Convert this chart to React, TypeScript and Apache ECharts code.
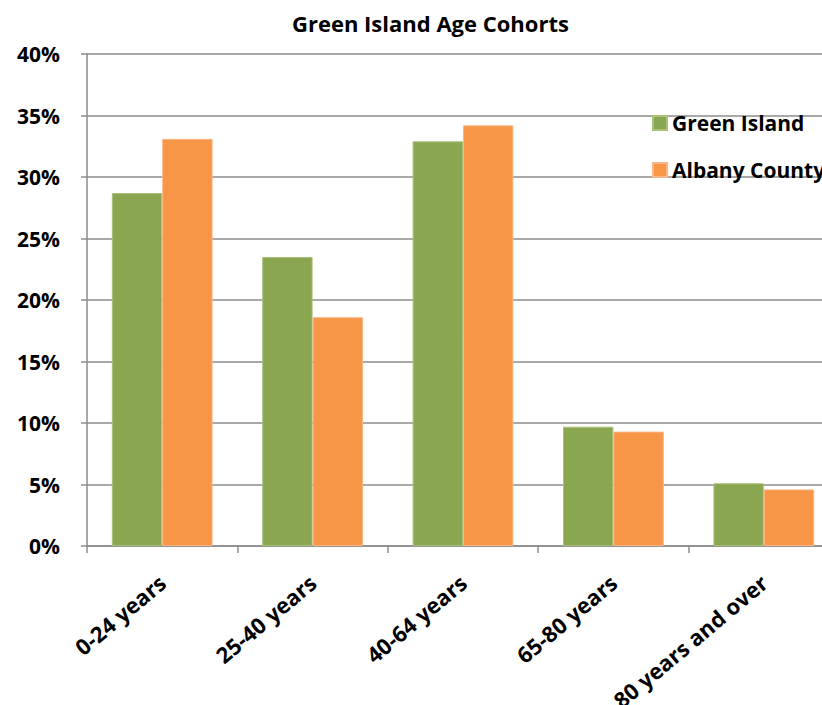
import React, { useEffect, useRef } from "react";
import * as echarts from "echarts";

const categories = ["0-24 years", "25-40 years", "40-64 years", "65-80 years", "80 years and over"];
const greenIsland = [28.7, 23.5, 32.9, 9.7, 5.1];
const albanyCounty = [33.1, 18.6, 34.2, 9.3, 4.6];
const seriesNames = ["Green Island", "Albany County"];
const titleText = "Green Island Age Cohorts";

const FONT = "'Open Sans', 'Noto Sans', sans-serif";

export default function App() {
  const ref = useRef<HTMLDivElement>(null);
  useEffect(() => {
    if (!ref.current) return;
    const chart = echarts.init(ref.current, null, { renderer: "svg" });
    chart.setOption({
      animation: false,
      backgroundColor: "#ffffff",
      title: {
        text: titleText,
        left: 287,
        top: 7,
        textStyle: { fontFamily: FONT, fontWeight: "bold", fontSize: 22, color: "#000" },
      },
      legend: {
        orient: "vertical",
        left: 647,
        top: 106,
        itemWidth: 14,
        itemHeight: 14,
        itemGap: 23,
        icon: "rect",
        textStyle: { fontFamily: FONT, fontWeight: "bold", fontSize: 21, color: "#000", lineHeight: 24 },
        data: seriesNames,
      },
      grid: {
        left: 87,
        top: 54,
        bottom: 159,
        right: -17,
        containLabel: false,
        outerBoundsMode: "none",
      },
      xAxis: {
        type: "category",
        data: categories,
        axisLine: { lineStyle: { color: "#8c8c8c", width: 1.5 } },
        axisTick: { show: true, length: 7, lineStyle: { color: "#8c8c8c", width: 1.5 } },
        axisLabel: {
          rotate: 40,
          margin: 33,
          interval: 0,
          fontFamily: FONT,
          fontWeight: "bold",
          fontSize: 22,
          color: "#000",
        },
      },
      yAxis: {
        type: "value",
        min: 0,
        max: 40,
        interval: 5,
        axisLine: { show: true, lineStyle: { color: "#8c8c8c", width: 1.5 } },
        axisTick: { show: true, length: 6, lineStyle: { color: "#8c8c8c", width: 1.5 } },
        splitLine: { show: true, lineStyle: { color: "#8c8c8c", width: 1.5 } },
        axisLabel: {
          formatter: "{value}%",
          margin: 27,
          fontFamily: FONT,
          fontWeight: "bold",
          fontSize: 21,
          color: "#000",
        },
      },
      series: [
        {
          name: seriesNames[0],
          type: "bar",
          data: greenIsland,
          barGap: "0%",
          barCategoryGap: "33%",
          itemStyle: { color: "#8ba650", borderColor: "#a9c17a", borderWidth: 1 },
        },
        {
          name: seriesNames[1],
          type: "bar",
          data: albanyCounty,
          barGap: "0%",
          barCategoryGap: "33%",
          itemStyle: { color: "#f79646", borderColor: "#fab486", borderWidth: 1 },
        },
      ],
    });
    return () => chart.dispose();
  }, []);
  return (
    <div
      ref={ref}
      style={{ position: "fixed", left: 0, top: 0, width: 822, height: 705 }}
    />
  );
}
